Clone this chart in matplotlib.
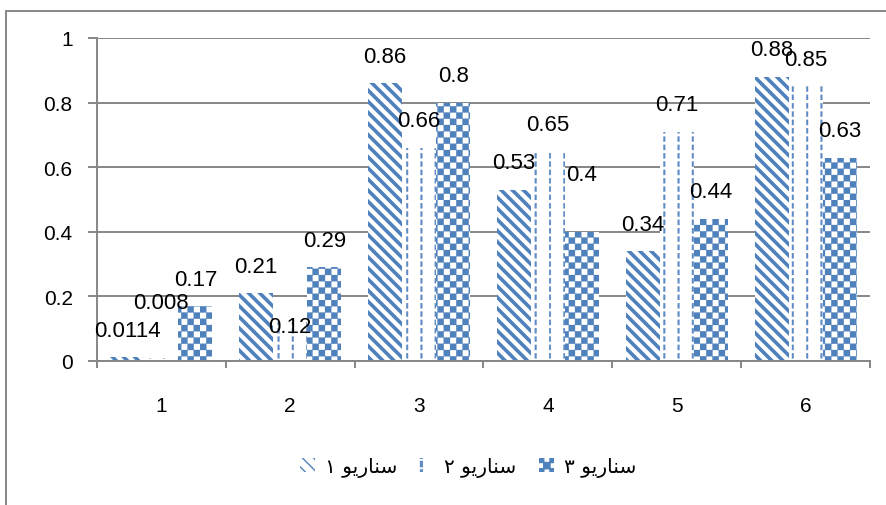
import matplotlib.pyplot as plt
import matplotlib.hatch as mhatch
from matplotlib.patches import Rectangle
from matplotlib.path import Path
import numpy as np

categories = ['1', '2', '3', '4', '5', '6']
scenario1 = [0.0114, 0.21, 0.86, 0.53, 0.34, 0.88]
scenario2 = [0.008, 0.12, 0.66, 0.65, 0.71, 0.85]
scenario3 = [0.17, 0.29, 0.8, 0.4, 0.44, 0.63]
yticks = [0, 0.2, 0.4, 0.6, 0.8, 1]
ytick_labels = ['0', '0.2', '0.4', '0.6', '0.8', '1']

# "سناريو ١/٢/٣" written in shaped, visual (left-to-right) order
word = '\uFEEE\uFEF3\uFEAD\uFE8E\uFEE8\uFEB3'
series_names = ['\u0661 ' + word, '\u0662 ' + word, '\u0663 ' + word]

blue = '#4F81BD'
grey = '#868686'

# label lift above bar top, in pixels (Excel moved a few of them)
lift_default = 27
lift_special = {(1, 0): 56, (1, 1): -4, (2, 3): 57}


def add_box(vertices, codes, k, x0, y0, x1, y1):
    vertices[k:k+5] = [(x0, y0), (x1, y0), (x1, y1), (x0, y1), (x0, y0)]
    codes[k:k+5] = [Path.MOVETO, Path.LINETO, Path.LINETO, Path.LINETO, Path.CLOSEPOLY]
    return k + 5


# checkerboard fill, used in place of the '*' hatch
class CheckerHatch(mhatch.HatchPatternBase):
    def __init__(self, hatch, density):
        self.n = 16 if '*' in hatch else 0
        self.num_vertices = (self.n * self.n // 2) * 5
        self.filled = True

    def set_vertices_and_codes(self, vertices, codes):
        a = 1.0 / self.n
        k = 0
        for r in range(self.n):
            for c in range(r % 2, self.n, 2):
                k = add_box(vertices, codes, k, c*a, r*a, (c+1)*a, (r+1)*a)


# dashed vertical lines, used in place of the 'o' hatch
class DashHatch(mhatch.HatchPatternBase):
    def __init__(self, hatch, density):
        self.cols, self.rows = 7, 12
        self.num_vertices = self.cols * self.rows * 5 if 'o' in hatch else 0
        self.filled = True

    def set_vertices_and_codes(self, vertices, codes):
        k = 0
        for c in range(self.cols):
            x0 = (c + 0.5) / self.cols - 0.009
            for r in range(self.rows):
                y0 = r / self.rows
                k = add_box(vertices, codes, k, x0, y0, x0 + 0.018, y0 + 0.62 / self.rows)


mhatch._hatch_types = [t for t in mhatch._hatch_types
                       if t not in (mhatch.Stars, mhatch.SmallCircles)] + [CheckerHatch, DashHatch]

fig = plt.figure(figsize=(8.87, 5.06), dpi=100)
ax = fig.add_axes([97/887, 1-362/506, 773/887, 323/506])

# outer chart frame
fig.patches.append(Rectangle((6/887, -0.1), 1.0, 1-12/506+0.1, transform=fig.transFigure,
                             fill=False, edgecolor=grey, linewidth=1.4))

x = np.arange(1, len(categories)+1)
w = 0.264
series = [scenario1, scenario2, scenario3]
hatches = ['\\\\\\', 'o', '*']
hatch_lw = [2.6, 0.2, 0.2]
hatch_col = [blue, '#5F8CC4', blue]
bars = []
for s in range(3):
    with plt.rc_context({'hatch.linewidth': hatch_lw[s]}):
        b = ax.bar(x + (s-1)*w, series[s], w, facecolor='white', edgecolor=hatch_col[s],
                   linewidth=0, hatch=hatches[s], label=series_names[s], zorder=2)
    bars.append(b)

for s in range(3):
    for i, v in enumerate(series[s]):
        lift = lift_special.get((s, i), lift_default)
        ax.annotate('{:g}'.format(v), (x[i] + (s-1)*w, v), xytext=(0, lift),
                    textcoords='offset pixels', ha='center', va='center',
                    fontsize=16, family='Liberation Sans', zorder=3)

ax.set_xlim(0.5, 6.5)
ax.set_ylim(0, 1)
ax.set_yticks(yticks)
ax.set_yticklabels(ytick_labels)
ax.set_xticks(x)
ax.set_xticklabels(categories)
ax.set_xticks(np.arange(0.5, 7, 1), minor=True)
ax.tick_params(axis='x', which='major', length=0, pad=25, labelsize=15)
ax.tick_params(axis='x', which='minor', length=5, width=1.4, color=grey, direction='out')
ax.tick_params(axis='y', length=6.5, width=1.4, color=grey, pad=11, labelsize=15)
for lab in ax.get_xticklabels() + ax.get_yticklabels():
    lab.set_family('Liberation Sans')

ax.grid(axis='y', color=grey, linewidth=1.4)
ax.set_axisbelow(True)
for sp in ['top', 'right']:
    ax.spines[sp].set_visible(False)
for sp in ['left', 'bottom']:
    ax.spines[sp].set_color(grey)
    ax.spines[sp].set_linewidth(1.4)

leg = fig.legend(handles=bars, labels=series_names, loc='center', bbox_to_anchor=(468/887, 1-468/506),
                 ncol=3, frameon=False, prop={'family': 'DejaVu Sans', 'size': 14.5},
                 handlelength=0.75, handleheight=0.65, handletextpad=0.5, columnspacing=1.1)

fig.savefig('out.png', dpi=100)
